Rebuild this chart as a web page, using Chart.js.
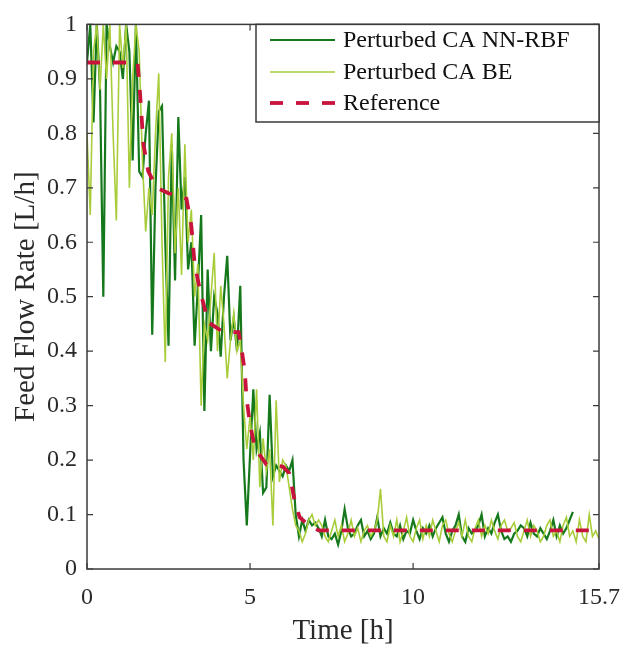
<!DOCTYPE html>
<html>
<head>
<meta charset="utf-8">
<script src="https://cdn.jsdelivr.net/npm/chart.js@4.4.1/dist/chart.umd.min.js"></script>
<style>
  html, body { margin: 0; padding: 0; background: #fff; }
  #wrap { width: 622px; height: 647px; }
</style>
</head>
<body>
<div id="wrap"><canvas id="flowChart" width="622" height="647"></canvas></div>
<script>
// sampled every 0.1 h, starting at t = 0
const sampleStepH = 0.1;

const nnRbf = [
  0.93, 1.0, 0.82, 1.0, 0.88, 0.50, 1.0, 0.96, 0.93, 0.96,
  0.95, 0.90, 1.0, 0.95, 0.75, 1.0, 0.73, 0.72, 0.80, 0.86,
  0.43, 0.70, 0.84, 0.85, 0.60, 0.41, 0.78, 0.53, 0.83, 0.66,
  0.72, 0.55, 0.60, 0.41, 0.52, 0.65, 0.29, 0.55, 0.40, 0.50,
  0.47, 0.39, 0.50, 0.575, 0.42, 0.46, 0.40, 0.52, 0.20, 0.08,
  0.21, 0.33, 0.22, 0.25, 0.14, 0.15, 0.32, 0.17, 0.19, 0.18,
  0.17, 0.19, 0.18, 0.20, 0.10, 0.06, 0.09, 0.07, 0.09, 0.08,
  0.085,
  0.075, 0.06, 0.09, 0.06, 0.055, 0.065, 0.045, 0.07, 0.11, 0.075,
  0.06, 0.065, 0.08, 0.09, 0.06, 0.07, 0.055, 0.065, 0.095, 0.06,
  0.075, 0.065, 0.085, 0.065, 0.06, 0.08, 0.055, 0.07, 0.065, 0.09,
  0.07, 0.055, 0.075, 0.065, 0.08, 0.06, 0.075, 0.085, 0.095, 0.065,
  0.05, 0.07, 0.08, 0.10, 0.06, 0.05, 0.075, 0.065, 0.07, 0.08,
  0.10, 0.06, 0.075, 0.065, 0.085, 0.10, 0.07, 0.055, 0.06, 0.05,
  0.065, 0.07, 0.08, 0.075, 0.06, 0.085, 0.065, 0.06, 0.075, 0.065,
  0.055, 0.07, 0.09, 0.06, 0.08, 0.065, 0.075, 0.09, 0.105
];

const be = [
  0.80, 0.65, 0.95, 1.0, 0.88, 1.0, 0.90, 1.0, 0.80, 0.64,
  1.0, 0.92, 1.0, 0.70, 0.90, 1.0, 0.95, 0.75, 0.62, 0.70,
  0.65, 0.80, 0.91, 0.60, 0.38, 0.72, 0.80, 0.58, 0.70, 0.54,
  0.78, 0.60, 0.66, 0.50, 0.56, 0.30, 0.45, 0.42, 0.50, 0.58,
  0.40, 0.52, 0.45, 0.35, 0.42, 0.47, 0.40, 0.42, 0.30, 0.22,
  0.28, 0.20, 0.33, 0.15, 0.24, 0.18, 0.22, 0.08, 0.31, 0.16,
  0.20, 0.19, 0.15, 0.11, 0.08, 0.07, 0.05, 0.065, 0.09, 0.10,
  0.08,
  0.09, 0.08, 0.06, 0.05, 0.07, 0.09, 0.06, 0.08, 0.05, 0.065,
  0.09, 0.06, 0.075, 0.05, 0.07, 0.08, 0.06, 0.07, 0.09, 0.147,
  0.06, 0.05, 0.08, 0.06, 0.09, 0.05, 0.07, 0.095, 0.06, 0.05,
  0.075, 0.09, 0.055, 0.08, 0.06, 0.09, 0.07, 0.05, 0.08, 0.09,
  0.065, 0.05, 0.07, 0.085, 0.06, 0.09, 0.06, 0.05, 0.075, 0.09,
  0.06, 0.08, 0.065, 0.09, 0.07, 0.055, 0.08, 0.09, 0.07, 0.075,
  0.085, 0.06, 0.05, 0.07, 0.09, 0.06, 0.08, 0.07, 0.05, 0.06,
  0.08, 0.09, 0.06, 0.07, 0.05, 0.08, 0.095, 0.06, 0.07, 0.05,
  0.09, 0.06, 0.05, 0.10, 0.06, 0.07, 0.055
];

const refTime  = [0, 1.55, 1.63, 1.73, 1.88, 2.14, 2.5, 3.05, 3.2, 3.3, 3.47, 3.72, 4.18, 4.65, 4.75, 4.84, 4.89, 5.0, 5.15, 5.5, 6.0, 6.2, 6.37, 6.52, 6.8, 7.1, 15.7];
const refValue = [0.93, 0.93, 0.87, 0.78, 0.73, 0.70, 0.69, 0.68, 0.63, 0.56, 0.51, 0.453, 0.435, 0.435, 0.40, 0.362, 0.315, 0.265, 0.222, 0.192, 0.188, 0.176, 0.125, 0.095, 0.08, 0.071, 0.071];

const xTicks = [0, 5, 10, 15.7];
const seriesNames = ["Perturbed CA NN-RBF", "Perturbed CA BE", "Reference"];

const FONT = "'Liberation Serif', 'Times New Roman', serif";
const INK = "#2a2a2a";

function toPoints(values) {
  return values.map((v, i) => ({ x: +(i * sampleStepH).toFixed(1), y: v }));
}

// box around the axes with inward ticks on all four sides
const frame = {
  id: "frame",
  afterDatasetsDraw(chart) {
    const { ctx, chartArea: a, scales } = chart;
    ctx.save();
    ctx.strokeStyle = "#3a3a3a";
    ctx.lineWidth = 1.5;
    ctx.strokeRect(a.left, a.top, a.right - a.left, a.bottom - a.top);
    ctx.lineWidth = 1.2;
    const len = 6;
    ctx.beginPath();
    scales.x.ticks.forEach(t => {
      const px = scales.x.getPixelForValue(t.value);
      ctx.moveTo(px, a.bottom); ctx.lineTo(px, a.bottom - len);
      ctx.moveTo(px, a.top); ctx.lineTo(px, a.top + len);
    });
    scales.y.ticks.forEach(t => {
      const py = scales.y.getPixelForValue(t.value);
      ctx.moveTo(a.left, py); ctx.lineTo(a.left + len, py);
      ctx.moveTo(a.right, py); ctx.lineTo(a.right - len, py);
    });
    ctx.stroke();
    ctx.restore();
  }
};

// legend box in the upper right corner of the axes
const boxLegend = {
  id: "boxLegend",
  afterDraw(chart) {
    const { ctx, chartArea: a } = chart;
    const left = 256, top = a.top, right = a.right, bottom = 122;
    ctx.save();
    ctx.fillStyle = "#fff";
    ctx.fillRect(left, top, right - left, bottom - top);
    ctx.strokeStyle = "#3a3a3a";
    ctx.lineWidth = 1.5;
    ctx.strokeRect(left, top, right - left, bottom - top);
    ctx.font = "24px " + FONT;
    ctx.textBaseline = "middle";
    ctx.fillStyle = "#111";
    const rows = [40, 72, 103];
    chart.data.datasets.forEach((ds, i) => {
      const y = rows[i];
      ctx.beginPath();
      ctx.strokeStyle = ds.borderColor;
      ctx.lineWidth = ds.borderWidth;
      ctx.setLineDash(ds.borderDash || []);
      ctx.moveTo(270, y); ctx.lineTo(335, y);
      ctx.stroke();
      ctx.setLineDash([]);
      ctx.fillText(ds.label, 343, y + 1);
    });
    ctx.restore();
  }
};

new Chart(document.getElementById("flowChart").getContext("2d"), {
  type: "line",
  data: {
    datasets: [
      {
        label: seriesNames[0],
        data: toPoints(nnRbf),
        borderColor: "#15791c",
        borderWidth: 2.2,
        pointRadius: 0,
        tension: 0,
        order: 2
      },
      {
        label: seriesNames[1],
        data: toPoints(be),
        borderColor: "#a9cd3a",
        borderWidth: 1.6,
        pointRadius: 0,
        tension: 0,
        order: 1
      },
      {
        label: seriesNames[2],
        data: refTime.map((t, i) => ({ x: t, y: refValue[i] })),
        borderColor: "#c8143c",
        borderWidth: 3.8,
        borderDash: [13, 13],
        pointRadius: 0,
        tension: 0,
        order: 0
      }
    ]
  },
  options: {
    responsive: false,
    animation: false,
    layout: { padding: { top: 19, right: 23, left: 0, bottom: 0 } },
    plugins: {
      legend: { display: false },
      tooltip: { enabled: false }
    },
    scales: {
      x: {
        type: "linear",
        min: 0,
        max: 15.7,
        afterBuildTicks: scale => { scale.ticks = xTicks.map(v => ({ value: v })); },
        afterFit: scale => { scale.height = 78; scale.paddingRight = 0; scale.paddingLeft = 0; },
        grid: { display: false, drawTicks: false },
        border: { display: false },
        ticks: {
          color: INK,
          font: { family: FONT, size: 24 },
          padding: 14,
          maxRotation: 0,
          callback: v => String(v)
        },
        title: {
          display: true,
          text: "Time [h]",
          color: INK,
          font: { family: FONT, size: 29, lineHeight: 1.1 },
          padding: { top: 0, bottom: 0 }
        }
      },
      y: {
        min: 0,
        max: 1,
        afterFit: scale => { scale.width = 87; },
        grid: { display: false, drawTicks: false },
        border: { display: false },
        ticks: {
          stepSize: 0.1,
          color: INK,
          font: { family: FONT, size: 24 },
          padding: 10,
          callback: v => (v === 0 || v === 1) ? String(v) : v.toFixed(1)
        },
        title: {
          display: true,
          text: "Feed Flow Rate [L/h]",
          color: INK,
          font: { family: FONT, size: 29, lineHeight: 1.1 },
          padding: { top: 10, bottom: 0 }
        }
      }
    }
  },
  plugins: [frame, boxLegend]
});
</script>
</body>
</html>
